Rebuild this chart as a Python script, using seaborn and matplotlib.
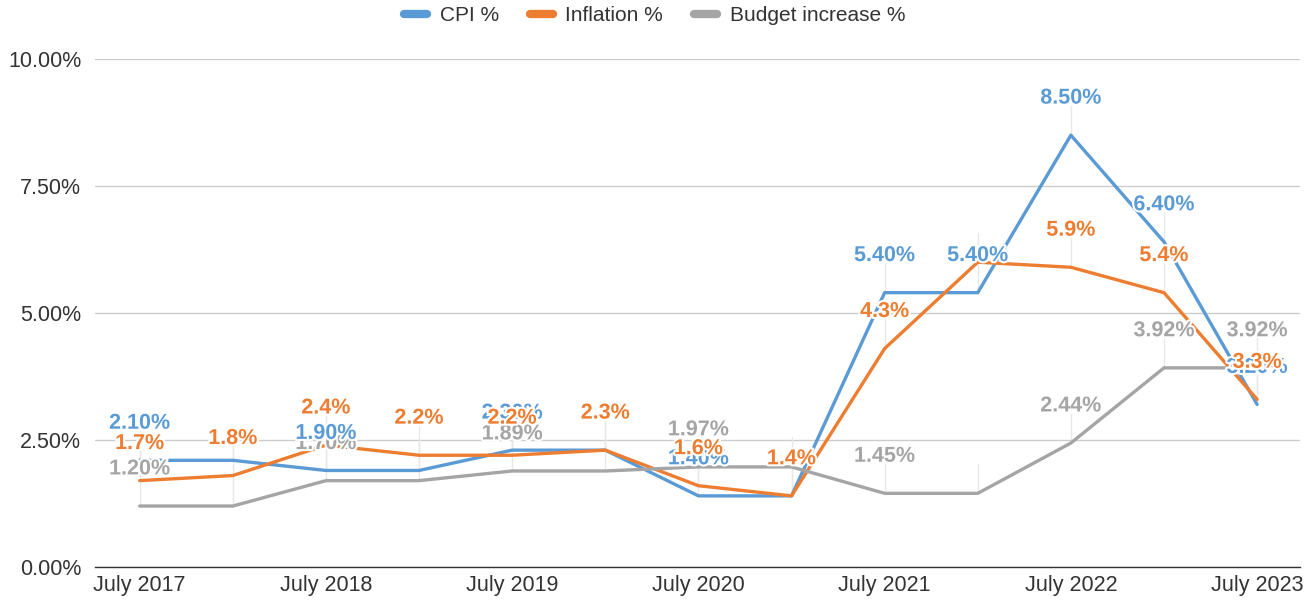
import numpy as np
import pandas as pd
import matplotlib
matplotlib.use("Agg")
import matplotlib.pyplot as plt
import matplotlib.patheffects as pe
import seaborn as sns

periods = ["July 2017", "Jan 2018", "July 2018", "Jan 2019", "July 2019", "Jan 2020",
           "July 2020", "Jan 2021", "July 2021", "Jan 2022", "July 2022", "Jan 2023", "July 2023"]
tick_labels = ["July 2017", "July 2018", "July 2019", "July 2020", "July 2021", "July 2022", "July 2023"]
cpi = [2.10, 2.10, 1.90, 1.90, 2.30, 2.30, 1.40, 1.40, 5.40, 5.40, 8.50, 6.40, 3.20]
inflation = [1.7, 1.8, 2.4, 2.2, 2.2, 2.3, 1.6, 1.4, 4.3, 6.0, 5.9, 5.4, 3.3]
budget = [1.20, 1.20, 1.70, 1.70, 1.89, 1.89, 1.97, 1.97, 1.45, 1.45, 2.44, 3.92, 3.92]
series_names = ["CPI %", "Inflation %", "Budget increase %"]
colors = ["#5B9BD5", "#ED7D31", "#A5A5A5"]
# which data labels are visible in the reference
show_cpi = [1, 0, 1, 0, 1, 0, 1, 0, 1, 1, 1, 1, 1]
show_inf = [1, 1, 1, 1, 1, 1, 1, 1, 1, 0, 1, 1, 1]
show_bud = [1, 0, 1, 0, 1, 0, 1, 0, 1, 0, 1, 1, 1]

sns.set_theme(style="white")
plt.rcParams["font.family"] = ["Liberation Sans", "DejaVu Sans"]

rows = []
for name, vals in zip(series_names, [cpi, inflation, budget]):
    for i, v in enumerate(vals):
        rows.append({"idx": i, "value": v, "series": name})
df = pd.DataFrame(rows)

fig = plt.figure(figsize=(13.07, 6.0), dpi=100)
ax = fig.add_axes([0.0727, 0.055, 0.9219, 0.8467])

ax.set_xlim(-0.48, 12.46)
ax.set_ylim(0, 10)
ax.set_yticks([0, 2.5, 5, 7.5, 10])
ax.set_yticklabels(["0.00%", "2.50%", "5.00%", "7.50%", "10.00%"])
ax.yaxis.grid(True, color="#cccccc", linewidth=1.0)
ax.set_axisbelow(True)

fmt_cpi = lambda v: f"{v:.2f}%"
fmt_inf = lambda v: f"{v:.1f}%"
fmt_bud = lambda v: f"{v:.2f}%"
offset = 0.73
for vals, shows in [(cpi, show_cpi), (inflation, show_inf), (budget, show_bud)]:
    for i, (v, s) in enumerate(zip(vals, shows)):
        ax.plot([i, i], [v, v + offset - 0.15], color="#e8e8e8", linewidth=1.0, zorder=1)

sns.lineplot(data=df, x="idx", y="value", hue="series", palette=colors,
             hue_order=series_names, linewidth=2.4, ax=ax, legend=False, zorder=3)

for vals, shows, col, fmt in [(budget, show_bud, colors[2], fmt_bud),
                              (cpi, show_cpi, colors[0], fmt_cpi),
                              (inflation, show_inf, colors[1], fmt_inf)]:
    for i, (v, s) in enumerate(zip(vals, shows)):
        if s:
            ax.text(i, v + offset, fmt(v), ha="center", va="center", color=col,
                    fontsize=15.5, fontweight="bold", zorder=5,
                    path_effects=[pe.withStroke(linewidth=3, foreground="white")])

ax.set_xticks(range(0, 13, 2))
ax.set_xticklabels(tick_labels)
ax.tick_params(axis="both", labelsize=15.5, colors="#333333", length=0)
ax.tick_params(axis="x", pad=6)
ax.tick_params(axis="y", pad=10)
ax.set_xlabel("")
ax.set_ylabel("")
for sp in ["top", "right", "left"]:
    ax.spines[sp].set_visible(False)
ax.spines["bottom"].set_color("#333333")
ax.spines["bottom"].set_linewidth(1.0)

handles = [plt.Line2D([0], [0], color=c, linewidth=6) for c in colors]
fig.legend(handles, series_names, loc="center", bbox_to_anchor=(0.501, 0.974), ncol=3,
           frameon=False, fontsize=15, handlelength=1.1, columnspacing=1.5,
           handletextpad=0.6, labelcolor="#333333")

fig.savefig("out.png", dpi=100)
